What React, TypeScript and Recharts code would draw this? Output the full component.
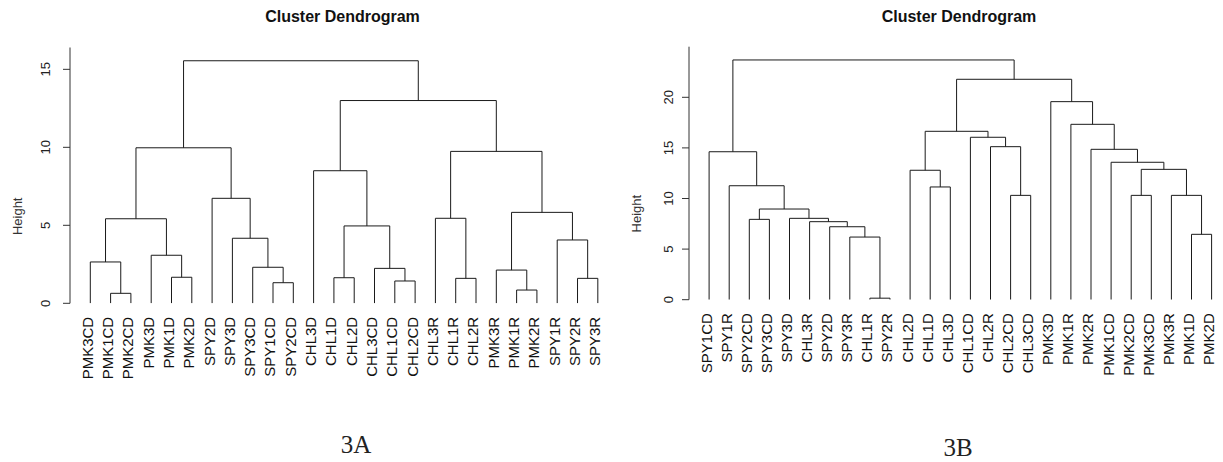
import React from "react";
import {ComposedChart, Line, XAxis, YAxis} from "recharts";

// 3A: leaf order as drawn, merges in R hclust form (negative = leaf, positive = earlier merge)
const labelsA = [
    "PMK3CD", "PMK1CD", "PMK2CD", "PMK3D", "PMK1D", "PMK2D", "SPY2D", "SPY3D", "SPY3CD",
    "SPY1CD", "SPY2CD", "CHL3D", "CHL1D", "CHL2D", "CHL3CD", "CHL1CD", "CHL2CD", "CHL3R",
    "CHL1R", "CHL2R", "PMK3R", "PMK1R", "PMK2R", "SPY1R", "SPY2R", "SPY3R",
];
const mergeLeftA = [-2, -1, -5, -4, 2, -10, -9, -8, -7, 5, -13, -16, -15, 11, -12, -19, -18, -22, -21, -25, -24, 19, 17, 15, 10];
const mergeRightA = [-3, 1, -6, 3, 4, -11, 6, 7, 8, 9, -14, -17, 12, 13, 14, -20, 16, -23, 18, -26, 20, 21, 22, 23, 24];
const heightsA = [0.64, 2.65, 1.67, 3.08, 5.42, 1.32, 2.31, 4.17, 6.73, 9.97, 1.64, 1.43, 2.24, 4.96, 8.5, 1.6, 5.45, 0.85, 2.13, 1.6, 4.06, 5.83, 9.74, 13.0, 15.55];
const yTicksA = [0, 5, 10, 15];

// 3B
const labelsB = [
    "SPY1CD", "SPY1R", "SPY2CD", "SPY3CD", "SPY3D", "CHL3R", "SPY2D", "SPY3R", "CHL1R",
    "SPY2R", "CHL2D", "CHL1D", "CHL3D", "CHL1CD", "CHL2R", "CHL2CD", "CHL3CD", "PMK3D",
    "PMK1R", "PMK2R", "PMK1CD", "PMK2CD", "PMK3CD", "PMK3R", "PMK1D", "PMK2D",
];
const mergeLeftB = [-9, -8, -7, -6, -5, -3, 6, -2, -1, -12, -11, -16, -15, -14, 11, -25, -24, -22, 18, -21, -20, -19, -18, 15, 9];
const mergeRightB = [-10, 1, 2, 3, 4, -4, 5, 7, 8, -13, 10, -17, 12, 13, 14, -26, 16, -23, 17, 19, 20, 21, 22, 23, 24];
const heightsB = [0.15, 6.19, 7.21, 7.71, 8.04, 7.94, 8.96, 11.26, 14.62, 11.14, 12.79, 10.31, 15.12, 16.05, 16.64, 6.46, 10.31, 10.31, 12.88, 13.58, 14.86, 17.33, 19.57, 21.78, 23.69];
const yTicksB = [0, 5, 10, 15, 20];

const FONT = "'Liberation Sans', Arial, sans-serif";

type Pt = { x: number; y: number | null };

// turn the merge table into U-shaped paths, broken by null points
function buildSegments(left: number[], right: number[], heights: number[]): Pt[] {
    const xs: number[] = [];
    const pos = (id: number) => id < 0 ? {x: -id, h: 0} : {x: xs[id - 1], h: heights[id - 1]};
    const pts: Pt[] = [];
    for (let i = 0; i < heights.length; i++) {
        const a = pos(left[i]);
        const b = pos(right[i]);
        const h = heights[i];
        pts.push({x: a.x, y: a.h}, {x: a.x, y: h}, {x: b.x, y: h}, {x: b.x, y: b.h}, {x: b.x, y: null});
        xs.push((a.x + b.x) / 2);
    }
    return pts;
}

type DendroProps = {
    labels: string[];
    left: number[];
    right: number[];
    heights: number[];
    yTicks: number[];
    yMax: number;
    xMax: number;
    width: number;
    margin: { top: number; right: number; bottom: number; left: number };
    tickOffset: number;
};

const Dendro: React.FC<DendroProps> = (p) => {
    const segs = buildSegments(p.left, p.right, p.heights);
    const leafTicks = p.labels.map((_, i) => i + 1);
    return (
        <ComposedChart width={p.width} height={462} margin={p.margin}>
            <XAxis
                type="number"
                dataKey="x"
                domain={[0, p.xMax]}
                allowDataOverflow
                ticks={leafTicks}
                interval={0}
                axisLine={false}
                tickLine={false}
                tickSize={0}
                tickMargin={0}
                height={140}
                tick={(t: any) => (
                    <text
                        transform={`translate(${t.x},${t.y + 13.5}) rotate(-90)`}
                        textAnchor="end"
                        dy={2.4}
                        fontSize={15}
                        fontFamily={FONT}
                        fill="#111"
                    >
                        {p.labels[t.payload.value - 1]}
                    </text>
                )}
            />
            <YAxis
                type="number"
                domain={[0, p.yMax]}
                allowDataOverflow
                ticks={p.yTicks}
                width={62}
                tickSize={7}
                tickMargin={0}
                stroke="#333"
                tick={(t: any) => (
                    <text
                        transform={`translate(${t.x - p.tickOffset},${t.y}) rotate(-90)`}
                        textAnchor="middle"
                        dy={4.6}
                        fontSize={13}
                        fontFamily={FONT}
                        fill="#222"
                    >
                        {t.payload.value}
                    </text>
                )}
                label={{
                    content: (l: any) => {
                        const vb = l.viewBox;
                        const cx = vb.x + vb.width - 53;
                        const cy = vb.y + vb.height * 0.66;
                        return (
                            <text
                                transform={`translate(${cx},${cy}) rotate(-90)`}
                                textAnchor="middle"
                                dy={4.6}
                                fontSize={13}
                                fontFamily={FONT}
                                fill="#333"
                            >
                                Height
                            </text>
                        );
                    },
                }}
            />
            <Line
                data={segs}
                dataKey="y"
                type="linear"
                stroke="#1a1a1a"
                strokeWidth={1}
                dot={false}
                activeDot={false}
                connectNulls={false}
                isAnimationActive={false}
            />
        </ComposedChart>
    );
};

const App: React.FC = () => {
    return (
        <div style={{position: "absolute", left: 0, top: 0, width: 1223, height: 462, background: "#fff"}}>
            <div style={{position: "absolute", left: 0, top: 0}}>
                <Dendro
                    labels={labelsA}
                    left={mergeLeftA}
                    right={mergeRightA}
                    heights={heightsA}
                    yTicks={yTicksA}
                    yMax={16.4}
                    xMax={26.6}
                    width={612}
                    margin={{top: 47.5, right: 2, bottom: 18.7, left: 8}}
                    tickOffset={18}
                />
            </div>
            <div style={{position: "absolute", left: 612, top: 0}}>
                <Dendro
                    labels={labelsB}
                    left={mergeLeftB}
                    right={mergeRightB}
                    heights={heightsB}
                    yTicks={yTicksB}
                    yMax={25}
                    xMax={26.5}
                    width={611}
                    margin={{top: 46.7, right: 1.35, bottom: 22.3, left: 15}}
                    tickOffset={14}
                />
            </div>
            <svg width={1223} height={462} style={{position: "absolute", left: 0, top: 0, pointerEvents: "none"}}>
                <text x={342.5} y={22} textAnchor="middle" fontSize={16} fontWeight="bold" fontFamily={FONT} fill="#111">
                    Cluster Dendrogram
                </text>
                <text x={959} y={21.5} textAnchor="middle" fontSize={16} fontWeight="bold" fontFamily={FONT} fill="#111">
                    Cluster Dendrogram
                </text>
                <text x={356} y={453} textAnchor="middle" fontSize={25} fontFamily="'Liberation Serif', 'DejaVu Serif', serif" fill="#222">
                    3A
                </text>
                <text x={958} y={455.5} textAnchor="middle" fontSize={25} fontFamily="'Liberation Serif', 'DejaVu Serif', serif" fill="#222">
                    3B
                </text>
            </svg>
        </div>
    );
};

export default App;
